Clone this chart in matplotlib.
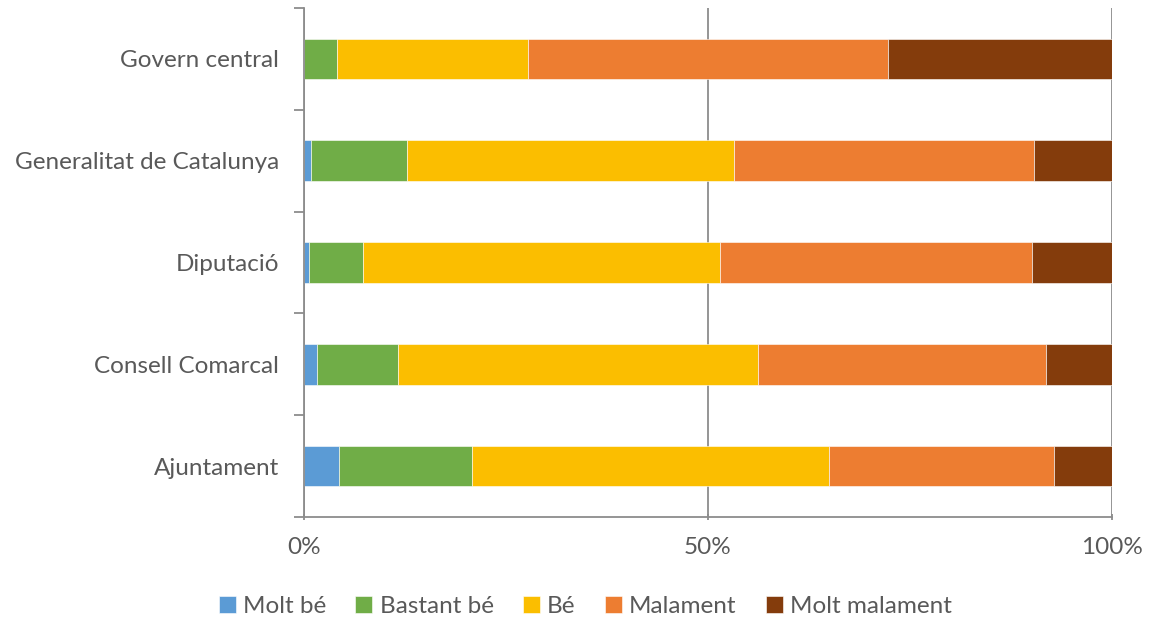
import numpy as np
import matplotlib.pyplot as plt
from matplotlib.ticker import FixedLocator, PercentFormatter

plt.rcParams['font.family'] = ['Lato', 'DejaVu Sans']

# categories from top to bottom as in the chart
categories = ['Govern central', 'Generalitat de Catalunya', 'Diputació',
              'Consell Comarcal', 'Ajuntament']
series = ['Molt bé', 'Bastant bé', 'Bé', 'Malament', 'Molt malament']
colors = ['#5B9BD5', '#70AD47', '#FBBE00', '#ED7D31', '#843C0C']

# percentages per category (same order as categories)
molt_be = [0.0, 0.9, 0.6, 1.6, 4.3]
bastant_be = [4.1, 11.8, 6.7, 10.0, 16.5]
be = [23.6, 40.5, 44.2, 44.6, 44.2]
malament = [44.6, 37.1, 38.6, 35.6, 27.8]
molt_malament = [27.7, 9.7, 9.9, 8.2, 7.2]

values = [molt_be, bastant_be, be, malament, molt_malament]

fig = plt.figure(figsize=(11.5, 6.18), dpi=100)
ax = fig.add_axes([0.2643, 0.1634, 0.7027, 0.8236])

ypos = np.arange(len(categories))[::-1]
left = np.zeros(len(categories))
for name, vals, col in zip(series, values, colors):
    vals = np.array(vals)
    ax.barh(ypos, vals, left=left, height=0.4, color=col, label=name,
            edgecolor='white', linewidth=0.4)
    left += vals

ax.set_xlim(0, 100)
ax.set_ylim(-0.5, len(categories) - 0.5)

grid_col = '#8C8C8C'
text_col = '#595959'
fs = 17.5
ax.set_xticks([0, 50, 100])
ax.xaxis.set_major_formatter(PercentFormatter(decimals=0))
ax.xaxis.grid(True, color=grid_col, linewidth=1.3)
ax.set_axisbelow(True)

ax.set_yticks(ypos)
ax.set_yticklabels(categories)
ax.yaxis.set_minor_locator(FixedLocator(np.arange(-0.5, len(categories), 1.0)))
ax.tick_params(axis='y', which='major', length=0, pad=18,
               labelsize=fs, labelcolor=text_col)
ax.tick_params(axis='y', which='minor', length=7, width=1.3, color=grid_col)
ax.tick_params(axis='x', which='major', length=5, width=1.3, color=grid_col,
               direction='inout', labelsize=fs, labelcolor=text_col, pad=12)

for s in ['top', 'right']:
    ax.spines[s].set_visible(False)
for s in ['left', 'bottom']:
    ax.spines[s].set_color(grid_col)
    ax.spines[s].set_linewidth(1.3)

fig.legend(loc='lower center', bbox_to_anchor=(0.509, -0.033), ncol=5,
           frameon=False, fontsize=fs, handlelength=0.7, handleheight=0.7,
           handletextpad=0.3, columnspacing=1.2, labelcolor=text_col)

fig.savefig('out.png', dpi=100)
